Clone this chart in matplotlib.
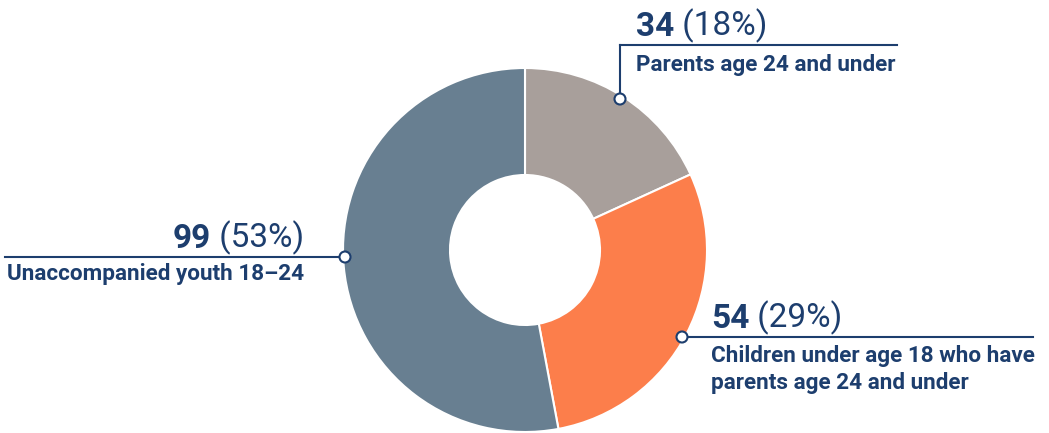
import matplotlib.pyplot as plt
from matplotlib.patches import Circle

plt.rcParams['font.family'] = ['Roboto', 'DejaVu Sans']

# data
labels = ["Parents age 24 and under",
          "Children under age 18 who have\nparents age 24 and under",
          "Unaccompanied youth 18\u201324"]
counts = [34, 54, 99]
shares = ["18%", "29%", "53%"]
colors = ["#A89F9B", "#FC7E4B", "#687F91"]

navy = "#1D3E6E"
W, H = 1049, 433

fig = plt.figure(figsize=(W / 100, H / 100), dpi=100)
ax = fig.add_axes([0, 0, 1, 1])

cx, cy, r = 525, H - 250, 182
ax.pie(counts, colors=colors, startangle=90, counterclock=False,
       center=(cx, cy), radius=r, frame=True,
       wedgeprops=dict(width=107, linewidth=1.5, edgecolor='white'))
ax.set_xlim(0, W)
ax.set_ylim(0, H)
ax.set_aspect('equal')
ax.axis('off')


def py(y):
    return H - y


def callout(x_txt, y_num, y_line, y_lab, line_x, dot, label, count, share, right=False):
    # leader line
    ax.plot(line_x, [py(y_line)] * len(line_x), color=navy, lw=1.5, zorder=3)
    ax.add_patch(Circle((dot[0], py(dot[1])), 5.5, facecolor='white',
                        edgecolor=navy, lw=1.5, zorder=4))
    if right:
        t = ax.text(x_txt, py(y_num), " (" + share + ")", fontsize=24, color=navy,
                    ha='right', va='bottom')
        ax.annotate(str(count), xy=(0, 0), xycoords=t, fontsize=24, color=navy,
                    fontweight='bold', ha='right', va='bottom')
    else:
        t = ax.text(x_txt, py(y_num), str(count), fontsize=24, color=navy,
                    fontweight='bold', ha='left', va='bottom')
        ax.annotate(" (" + share + ")", xy=(1, 0), xycoords=t, fontsize=24,
                    color=navy, ha='left', va='bottom')
    ax.text(x_txt, py(y_lab), label, fontsize=16.2, color=navy, fontweight='bold',
            ha='right' if right else 'left', va='top', linespacing=1.3)


# 34 (18%)
callout(636, 43, 45, 54, [620, 897], (620, 99), labels[0], counts[0], shares[0])
ax.plot([620, 620], [py(45), py(99)], color=navy, lw=1.5, zorder=3)
# 54 (29%)
callout(711, 335, 337, 345, [682, 1033], (682, 337), labels[1], counts[1], shares[1])
# 99 (53%)
callout(304, 255, 257, 263, [5, 345], (345, 257), labels[2], counts[2], shares[2], right=True)

fig.savefig("out.png", dpi=100)
